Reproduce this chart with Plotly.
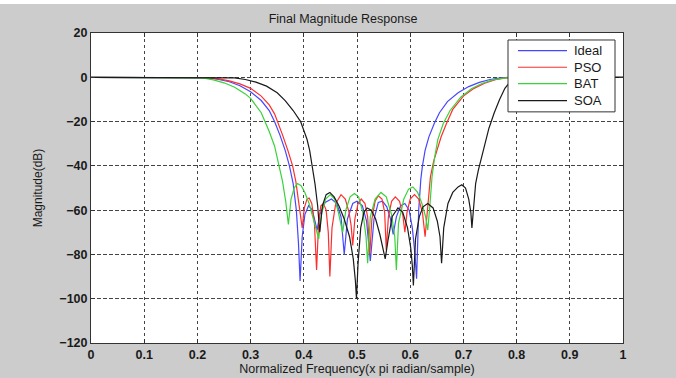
import plotly.graph_objects as go

# ---- data ----
ideal_f = [0, 0.1, 0.2, 0.22, 0.24, 0.26, 0.28, 0.30, 0.32, 0.335, 0.345, 0.355, 0.365, 0.373, 0.38, 0.386, 0.390, 0.393,
           0.397, 0.402, 0.409, 0.416, 0.421, 0.425, 0.43, 0.44, 0.452, 0.462, 0.47, 0.476, 0.482, 0.492, 0.50, 0.51,
           0.518, 0.525, 0.532, 0.54, 0.548, 0.556, 0.563, 0.568, 0.574, 0.582, 0.59, 0.598, 0.604, 0.609, 0.612,
           0.616, 0.62, 0.623, 0.628, 0.635, 0.645, 0.655, 0.67, 0.69, 0.71, 0.73, 0.75, 0.77, 0.79, 0.9, 1.0]
ideal_db = [0, 0, 0, -0.3, -1, -2, -3.8, -6.5, -10.5, -15, -20, -26, -33, -40, -48, -60, -75, -92,
            -72, -62, -58, -60, -65, -69, -62, -56.5, -55, -57, -63, -80, -64, -57, -56, -58,
            -65, -83, -64, -56.5, -56, -58.5, -64, -71, -63, -58, -57, -60, -68, -80, -91,
            -60, -46, -40, -33, -27, -21, -16, -11, -7, -4.2, -2.3, -1, -0.3, 0, 0, 0]

pso_f = [0, 0.1, 0.2, 0.22, 0.24, 0.26, 0.28, 0.30, 0.32, 0.335, 0.345, 0.351, 0.36, 0.37, 0.379, 0.385, 0.39, 0.394, 0.397,
         0.401, 0.406, 0.41, 0.415, 0.42, 0.424, 0.428, 0.432, 0.437, 0.442, 0.446, 0.449, 0.453, 0.46, 0.47, 0.478,
         0.485, 0.489, 0.492, 0.496, 0.502, 0.508, 0.515, 0.52, 0.524, 0.528, 0.534, 0.54, 0.547, 0.552, 0.555,
         0.559, 0.565, 0.572, 0.58, 0.586, 0.59, 0.594, 0.6, 0.608, 0.616, 0.623, 0.628, 0.632, 0.638, 0.644, 0.650,
         0.658, 0.668, 0.68, 0.70, 0.72, 0.74, 0.76, 0.78, 0.80, 0.9, 1.0]
pso_db = [0, 0, 0, -0.2, -0.7, -1.6, -3, -5, -8.5, -12.5, -16.5, -20, -26, -33, -40, -47, -55, -62, -68,
          -59, -55, -54.5, -57, -66, -87, -65, -58, -57, -60, -70, -90, -68, -57, -53, -55,
          -61, -67, -76, -64, -57, -55, -57, -63, -80, -64, -56, -53.5, -55, -61, -78,
          -63, -56, -54, -56, -62, -70, -61, -55, -53, -55, -61, -72, -60, -45, -38, -33,
          -27, -21, -14.5, -8.5, -5, -2.7, -1.1, -0.3, 0, 0, 0]

bat_f = [0, 0.1, 0.2, 0.21, 0.23, 0.25, 0.27, 0.29, 0.30, 0.31, 0.32, 0.327, 0.335, 0.345, 0.354, 0.36, 0.366, 0.371,
         0.376, 0.382, 0.388, 0.395, 0.402, 0.41, 0.418, 0.424, 0.428, 0.433, 0.441, 0.45, 0.458, 0.465, 0.473,
         0.479, 0.487, 0.495, 0.503, 0.511, 0.517, 0.52, 0.525, 0.534, 0.545, 0.555, 0.565, 0.571, 0.574,
         0.578, 0.588, 0.597, 0.605, 0.614, 0.622, 0.629, 0.633, 0.637, 0.641, 0.646, 0.652, 0.662, 0.675,
         0.695, 0.715, 0.735, 0.755, 0.775, 0.795, 0.9, 1.0]
bat_db = [0, 0, 0, -0.3, -1.2, -2.5, -4.5, -7.5, -9.5, -12.5, -16, -20, -24.5, -31, -40, -47, -56, -66.5,
          -55, -50, -48, -49, -52, -57, -64, -70, -73, -62, -55, -53, -55, -61, -70,
          -60, -54, -52.5, -54, -61, -72, -84, -63, -55, -52, -54, -62, -72, -87,
          -66, -55, -50.5, -49.5, -52, -57, -63, -69, -58, -45, -36, -28, -21, -15,
          -9, -5.2, -2.8, -1.2, -0.4, 0, 0, 0]

soa_f = [0, 0.1, 0.2, 0.25, 0.27, 0.29, 0.31, 0.33, 0.35, 0.365, 0.38, 0.394, 0.40, 0.406, 0.411, 0.416, 0.421, 0.426, 0.430,
         0.435, 0.442, 0.449, 0.457, 0.466, 0.476, 0.486, 0.493, 0.497, 0.499, 0.502, 0.507, 0.513, 0.519, 0.527,
         0.535, 0.543, 0.549, 0.553, 0.558, 0.566, 0.577, 0.586, 0.595, 0.601, 0.604, 0.606, 0.61, 0.617, 0.624, 0.633,
         0.643, 0.651, 0.656, 0.659, 0.663, 0.671, 0.68, 0.69, 0.697, 0.704, 0.71, 0.714, 0.716, 0.719, 0.723,
         0.728, 0.733, 0.74, 0.748, 0.758, 0.768, 0.778, 0.788, 0.798, 0.81, 0.9, 1.0]
soa_db = [0, 0, 0, 0, -0.3, -1, -2.2, -4, -7, -10.5, -15, -20, -24, -28, -33, -40, -48, -58, -70,
          -58, -53, -52, -54, -58, -64, -72, -82, -92, -100, -84, -68, -61, -59, -60,
          -64, -71, -78, -82, -74, -63, -59, -61, -68, -77, -85, -94, -73, -63, -58.5, -57,
          -59, -65, -72, -84, -68, -57, -52, -49.5, -48.5, -50, -55, -61, -68, -58, -48,
          -42, -37, -30, -23, -16, -10, -5, -2, -0.5, 0, 0, 0]

series_names = ["Ideal", "PSO", "BAT", "SOA"]
series_colors = ["#4646ff", "#ff2e2e", "#3ad23a", "#1a1a1a"]
series_f = [ideal_f, pso_f, bat_f, soa_f]
series_db = [ideal_db, pso_db, bat_db, soa_db]

x_ticks = [0, 0.1, 0.2, 0.3, 0.4, 0.5, 0.6, 0.7, 0.8, 0.9, 1]
x_ticktext = ["0", "0.1", "0.2", "0.3", "0.4", "0.5", "0.6", "0.7", "0.8", "0.9", "1"]
y_ticks = [20, 0, -20, -40, -60, -80, -100, -120]

FONT = "Liberation Sans, Arial, sans-serif"

# plot area in pixels
L, R, T, B = 91, 623, 33, 343.5
PW, PH = R - L, B - T


def px(xp):
    return (xp - L) / PW


def py(yp):
    return (B - yp) / PH


fig = go.Figure()
for name, color, fx, fy in zip(series_names, series_colors, series_f, series_db):
    fig.add_trace(go.Scatter(x=fx, y=fy, mode="lines", name=name,
                             line=dict(color=color, width=1.2)))

# hand-drawn legend box (MATLAB style)
shapes = [
    dict(type="rect", xref="paper", yref="paper", x0=px(-10), x1=px(686),
         y0=py(4), y1=py(-3), fillcolor="#ffffff", line=dict(width=0), layer="below"),
    dict(type="rect", xref="paper", yref="paper", x0=px(508), x1=px(615), y0=py(112), y1=py(40),
         fillcolor="#ffffff", line=dict(color="#333333", width=1)),
]
annotations = []
entry_y = [50.7, 67.3, 83.8, 100.7]
for name, color, ey in zip(series_names, series_colors, entry_y):
    shapes.append(dict(type="line", xref="paper", yref="paper", x0=px(518), x1=px(567),
                       y0=py(ey), y1=py(ey), line=dict(color=color, width=1.2)))
    annotations.append(dict(text=name, xref="paper", yref="paper", x=px(572), y=py(ey),
                            xanchor="left", yanchor="middle", showarrow=False,
                            font=dict(size=13, family=FONT, color="#1a1a1a")))

fig.update_layout(
    width=676, height=378,
    margin=dict(l=L, r=676 - R, t=T, b=378 - B, autoexpand=False),
    paper_bgcolor="#cccccc",
    plot_bgcolor="#ffffff",
    font=dict(family=FONT, size=12, color="#1a1a1a"),
    title=dict(text="Final Magnitude Response", x=(L + 252) / 676, xanchor="center",
               y=1 - 19 / 378, yanchor="middle", font=dict(size=12.5, family=FONT, color="#1a1a1a"),
               automargin=False),
    showlegend=False,
    shapes=shapes,
    annotations=annotations,
)

fig.update_xaxes(range=[0, 1], tickvals=x_ticks, ticktext=x_ticktext, automargin=False,
                 showline=True, linecolor="#333333", linewidth=1, mirror="allticks",
                 ticks="inside", ticklen=4, tickcolor="#333333",
                 showgrid=True, gridcolor="#444444", gridwidth=1, griddash="dot",
                 zeroline=False, tickfont=dict(size=12.5, family=FONT, weight="bold"),
                 title=dict(text="Normalized Frequency(x pi radian/sample)", standoff=3,
                            font=dict(size=12.5, family=FONT)))
fig.update_yaxes(range=[-120, 20], tickvals=y_ticks, automargin=False,
                 showline=True, linecolor="#333333", linewidth=1, mirror="allticks",
                 ticks="inside", ticklen=4, tickcolor="#333333",
                 showgrid=True, gridcolor="#444444", gridwidth=1, griddash="4px,2px",
                 zeroline=False, tickfont=dict(size=12.5, family=FONT, weight="bold"),
                 title=dict(text="Magnitude(dB)", standoff=14, font=dict(size=12, family=FONT)))

fig.write_html("out.html", config={"displayModeBar": False},
               post_script="document.body.style.margin='0';document.body.style.overflow='hidden';")
